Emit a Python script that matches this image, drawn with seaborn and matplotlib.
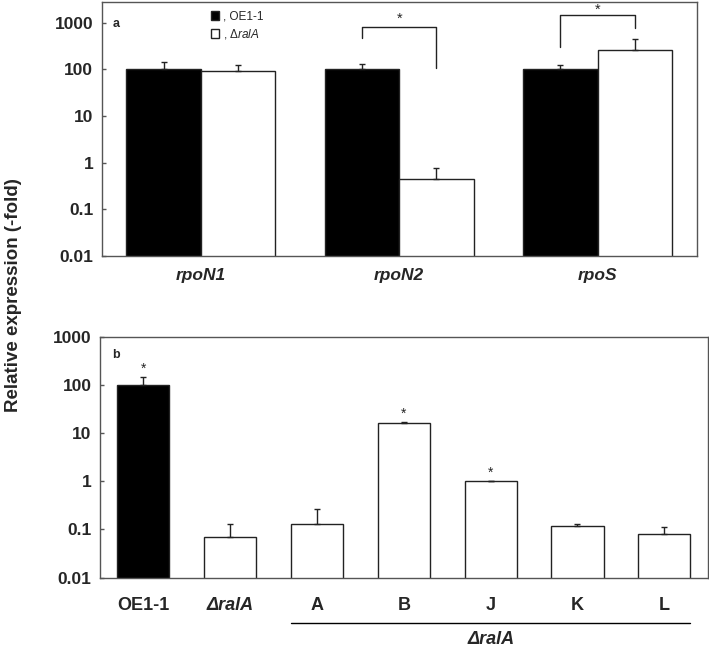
import numpy as np
import pandas as pd
import matplotlib
matplotlib.use("Agg")
import matplotlib.pyplot as plt
import matplotlib.transforms as mtransforms
import seaborn as sns

# --- data (a): rpoN1 / rpoN2 / rpoS ---
genes = ["rpoN1", "rpoN2", "rpoS"]
strains = ["OE1-1", "ΔralA"]
oe_mean = [100, 100, 100]
oe_err = [45, 30, 22]
ral_mean = [90, 0.45, 258]
ral_err = [32, 0.33, 185]

# --- data (b): OE1-1, ΔralA, complemented strains ---
lines_b = ["OE1-1", "ΔralA", "A", "B", "J", "K", "L"]
mean_b = [100, 0.069, 0.13, 16.5, 1.0, 0.116, 0.079]
err_b = [43, 0.06, 0.135, 0.4, 0.03, 0.014, 0.031]
sig_b = [True, False, False, True, True, False, False]

sns.set_style("ticks")
plt.rcParams["font.family"] = ["Liberation Sans", "DejaVu Sans"]
plt.rcParams["mathtext.fontset"] = "custom"
plt.rcParams["mathtext.rm"] = "Liberation Sans"
plt.rcParams["mathtext.it"] = "Liberation Sans:italic"
plt.rcParams["mathtext.bf"] = "Liberation Sans:bold"

EDGE = "#222222"
SPINE = "#555555"

fig = plt.figure(figsize=(7.09, 6.48), dpi=100)
ax1 = fig.add_axes([0.1434, 0.6049, 0.8393, 0.3925])
ax2 = fig.add_axes([0.1410, 0.1085, 0.8572, 0.3719])

df_a = pd.DataFrame({
    "gene": genes * 2,
    "strain": [strains[0]] * 3 + [strains[1]] * 3,
    "expr": oe_mean + ral_mean,
})
sns.barplot(data=df_a, x="gene", y="expr", hue="strain", hue_order=strains,
            palette=["black", "white"], edgecolor=EDGE, linewidth=1,
            width=0.75, errorbar=None, legend=False, ax=ax1)
ax1.set_yscale("log")

for cont, means, errs in zip(ax1.containers, [oe_mean, ral_mean], [oe_err, ral_err]):
    xs = [b.get_x() + b.get_width() / 2 for b in cont]
    ax1.errorbar(xs, means, yerr=[np.zeros(len(errs)), errs], fmt="none",
                 ecolor=EDGE, elinewidth=1, capsize=2.5, capthick=1)

# significance brackets
cx = lambda c, i: ax1.containers[c][i].get_x() + ax1.containers[c][i].get_width() / 2
x0, x1 = cx(0, 1), cx(1, 1)
ax1.plot([x0, x0, x1, x1], [463, 820, 820, 109], color=EDGE, lw=1)
ax1.text((x0 + x1) / 2, 1180, "*", ha="center", va="center", fontsize=10.5)
x0, x1 = cx(0, 2), cx(1, 2)
ax1.plot([x0, x0, x1, x1], [306, 1460, 1460, 760], color=EDGE, lw=1)
ax1.text((x0 + x1) / 2, 1850, "*", ha="center", va="center", fontsize=10.5)

handles = [ax1.containers[0][0], ax1.containers[1][0]]
ax1.legend(handles, [", OE1-1", r", $\Delta\mathit{ralA}$"], loc="upper left",
           bbox_to_anchor=(0.183, 0.965), frameon=False, fontsize=8.5,
           handlelength=0.75, handleheight=0.75, handletextpad=0.3,
           labelspacing=0.4, borderpad=0, borderaxespad=0)
ax1.text(0.025, 0.911, "a", transform=ax1.transAxes, ha="center", va="center",
         fontsize=9, fontweight="bold")
ax1.set_ylim(0.01, 2800)
ax1.set_xlabel("")
ax1.set_ylabel("")

df_b = pd.DataFrame({"line": lines_b, "expr": mean_b})
sns.barplot(data=df_b, x="line", y="expr", hue="line", hue_order=lines_b,
            palette=["black"] + ["white"] * 6, edgecolor=EDGE, linewidth=1,
            width=0.6, errorbar=None, legend=False, ax=ax2)
ax2.set_yscale("log")

bars = sorted([p for c in ax2.containers for p in c], key=lambda b: b.get_x())
xs_b = [b.get_x() + b.get_width() / 2 for b in bars]
ax2.errorbar(xs_b, mean_b, yerr=[np.zeros(len(err_b)), err_b], fmt="none",
             ecolor=EDGE, elinewidth=1, capsize=2.5, capthick=1)
for x, m, e, s in zip(xs_b, mean_b, err_b, sig_b):
    if s:
        ax2.annotate("*", (x, m + e), xytext=(0, 6), textcoords="offset points",
                     ha="center", va="center", fontsize=10)

ax2.text(0.026, 0.924, "b", transform=ax2.transAxes, ha="center", va="center",
         fontsize=9, fontweight="bold")
ax2.set_ylim(0.01, 1000)
ax2.set_xlabel("")
ax2.set_ylabel("")

# line + label under the complemented strains
trans = mtransforms.blended_transform_factory(ax2.transData, ax2.transAxes)
left = bars[2].get_x()
right = bars[-1].get_x() + bars[-1].get_width()
ax2.plot([left, right], [-0.187, -0.187], color="black", lw=1,
         transform=trans, clip_on=False)
ax2.text((xs_b[2] + xs_b[-1]) / 2, -0.258, "ΔralA", transform=trans,
         ha="center", va="center", fontsize=13, fontweight="bold",
         fontstyle="italic")

for ax in (ax1, ax2):
    ax.set_xlim(-0.5, len(ax.get_xticks()) - 0.5)
    for sp in ax.spines.values():
        sp.set_visible(True)
        sp.set_color(SPINE)
        sp.set_linewidth(1)
    ax.tick_params(axis="y", direction="in", length=3, width=1, color=SPINE,
                   labelsize=12.5, pad=6)
    ax.yaxis.set_minor_locator(matplotlib.ticker.NullLocator())
    ax.set_yticks([0.01, 0.1, 1, 10, 100, 1000])
    ax.set_yticklabels(["0.01", "0.1", "1", "10", "100", "1000"])
    for lbl in ax.get_yticklabels():
        lbl.set_fontweight("bold")

ax1.tick_params(axis="x", length=0, pad=8.5, labelsize=12.5)
for lbl in ax1.get_xticklabels():
    lbl.set_fontweight("bold")
    lbl.set_fontstyle("italic")
ax2.tick_params(axis="x", length=0, pad=14, labelsize=13)
for lbl in ax2.get_xticklabels():
    lbl.set_fontweight("bold")
    if lbl.get_text() == "ΔralA":
        lbl.set_fontstyle("italic")

fig.text(0.019, 1 - 295 / 648, "Relative expression (-fold)", rotation=90,
         ha="center", va="center", fontsize=13.5, fontweight="bold")

fig.savefig("out.png", dpi=100)
